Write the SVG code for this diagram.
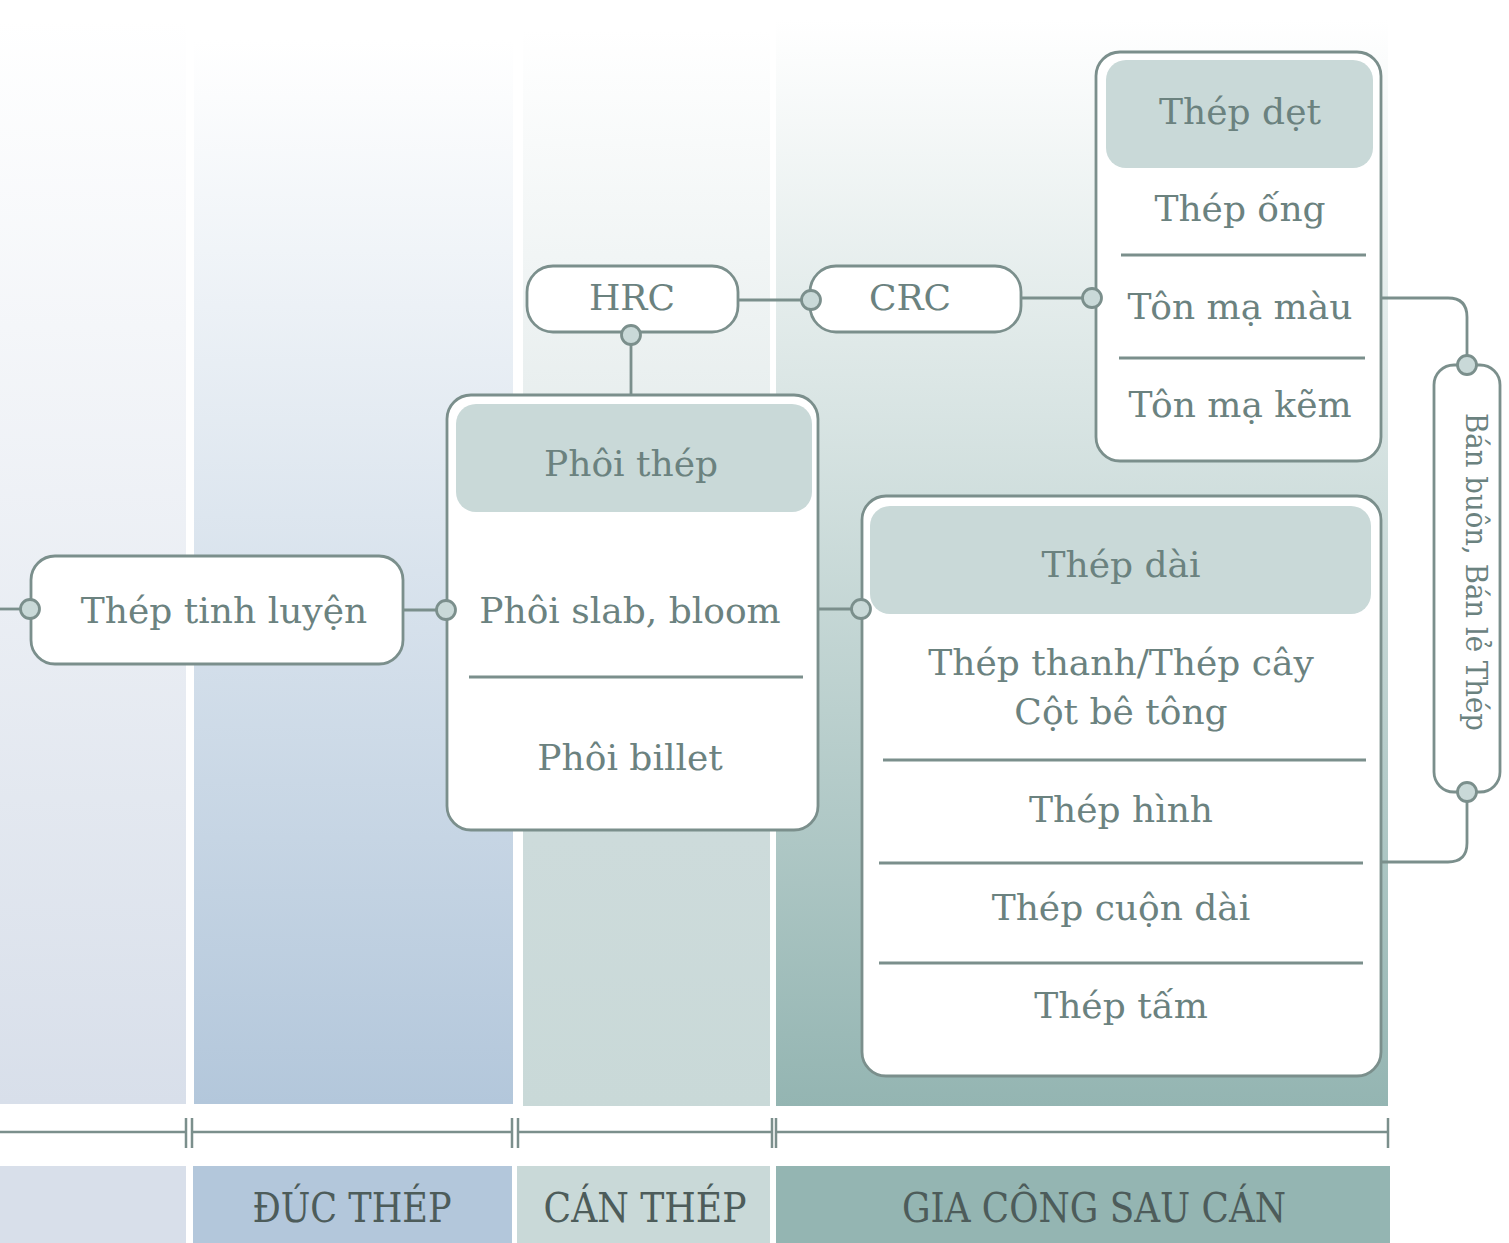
<svg xmlns="http://www.w3.org/2000/svg" width="1509" height="1243" viewBox="0 0 1509 1243">
<defs>
<linearGradient id="g1" gradientUnits="userSpaceOnUse" x1="0" y1="20" x2="0" y2="1104"><stop offset="0" stop-color="#ffffff"/><stop offset="1" stop-color="#d8dfea"/></linearGradient>
<linearGradient id="g2" gradientUnits="userSpaceOnUse" x1="0" y1="40" x2="0" y2="1104"><stop offset="0" stop-color="#ffffff"/><stop offset="1" stop-color="#b3c7db"/></linearGradient>
<linearGradient id="g3" gradientUnits="userSpaceOnUse" x1="0" y1="30" x2="0" y2="1106"><stop offset="0" stop-color="#ffffff"/><stop offset="0.75" stop-color="#cddbdb"/><stop offset="1" stop-color="#c9d9d8"/></linearGradient>
<linearGradient id="g4" gradientUnits="userSpaceOnUse" x1="0" y1="20" x2="0" y2="1106"><stop offset="0" stop-color="#ffffff"/><stop offset="1" stop-color="#94b5b2"/></linearGradient>
<style>
.box{fill:#ffffff;stroke:#7b8f8c;stroke-width:2.8}
.hdr{fill:#c9d9d8}
.ln{fill:none;stroke:#7b8f8c;stroke-width:2.8}
.dot{fill:#c9d9d8;stroke:#7b8f8c;stroke-width:2.8}
.t{font-family:"DejaVu Serif","Liberation Serif",serif;font-size:36px;fill:#6b827f;text-anchor:middle}
.lbl{font-family:"DejaVu Serif","Liberation Serif",serif;font-size:41px;fill:#4d5c5a;text-anchor:middle}
.ax{fill:none;stroke:#7b8f8c;stroke-width:2.5}
</style>
</defs>
<g id="background">
<rect x="0" y="20" width="186" height="1084" fill="url(#g1)"/>
<rect x="194" y="40" width="319" height="1064" fill="url(#g2)"/>
<rect x="523" y="30" width="247" height="1076" fill="url(#g3)"/>
<rect x="776" y="20" width="612" height="1086" fill="url(#g4)"/>
</g>
<g id="axis">
<path class="ax" d="M0 1132H186M192 1132H512M518 1132H772M776 1132H1388"/>
<path class="ax" d="M186 1118V1148M192 1118V1148M512 1118V1148M518 1118V1148M772 1118V1148M776 1118V1148M1388 1118V1148"/>
</g>
<g id="stage-labels">
<rect x="0" y="1166" width="186" height="77" fill="#d8dfea"/>
<rect x="193" y="1166" width="319" height="77" fill="#b3c7db"/>
<text class="lbl" x="352" y="1222" textLength="199" lengthAdjust="spacingAndGlyphs">ĐÚC THÉP</text>
<rect x="517" y="1166" width="253" height="77" fill="#c9d9d8"/>
<text class="lbl" x="645" y="1222" textLength="203" lengthAdjust="spacingAndGlyphs">CÁN THÉP</text>
<rect x="776" y="1166" width="614" height="77" fill="#94b5b2"/>
<text class="lbl" x="1094" y="1222" textLength="384" lengthAdjust="spacingAndGlyphs">GIA CÔNG SAU CÁN</text>
</g>
<g id="connectors">
<path class="ln" d="M0 609H30"/>
<path class="ln" d="M403 610H446"/>
<path class="ln" d="M631 335V395"/>
<path class="ln" d="M738 300H811"/>
<path class="ln" d="M1021 298H1092"/>
<path class="ln" d="M818 609H861"/>
<path class="ln" d="M1381 298H1448Q1467 298 1467 317V365"/>
<path class="ln" d="M1467 792V843Q1467 862 1448 862H1381"/>
</g>
<g id="node-thep-tinh-luyen">
<rect class="box" x="31" y="556" width="372" height="108" rx="24"/>
<text class="t" x="224" y="623">Thép tinh luyện</text>
</g>
<g id="node-phoi-thep">
<rect class="box" x="447" y="395" width="371" height="435" rx="24"/>
<rect class="hdr" x="456" y="404" width="356" height="108" rx="20"/>
<text class="t" x="631" y="476">Phôi thép</text>
<text class="t" x="630" y="623">Phôi slab, bloom</text>
<path class="ln" d="M469 677H803"/>
<text class="t" x="630" y="770">Phôi billet</text>
</g>
<g id="node-hrc">
<rect class="box" x="527" y="266" width="211" height="66" rx="26"/>
<text class="t" x="632" y="310">HRC</text>
</g>
<g id="node-crc">
<rect class="box" x="810" y="266" width="211" height="66" rx="26"/>
<text class="t" x="910" y="310">CRC</text>
</g>
<g id="node-thep-det">
<rect class="box" x="1096" y="52" width="285" height="409" rx="24"/>
<rect class="hdr" x="1106" y="60" width="267" height="108" rx="20"/>
<text class="t" x="1240" y="124">Thép dẹt</text>
<text class="t" x="1240" y="221">Thép ống</text>
<path class="ln" d="M1121 255H1366"/>
<text class="t" x="1240" y="319">Tôn mạ màu</text>
<path class="ln" d="M1119 358H1365"/>
<text class="t" x="1240" y="417">Tôn mạ kẽm</text>
</g>
<g id="node-thep-dai">
<rect class="box" x="862" y="496" width="519" height="580" rx="24"/>
<rect class="hdr" x="870" y="506" width="501" height="108" rx="20"/>
<text class="t" x="1121" y="577">Thép dài</text>
<text class="t" x="1121" y="675">Thép thanh/Thép cây</text>
<text class="t" x="1121" y="724">Cột bê tông</text>
<path class="ln" d="M883 760H1366"/>
<text class="t" x="1121" y="822">Thép hình</text>
<path class="ln" d="M879 863H1363"/>
<text class="t" x="1121" y="920">Thép cuộn dài</text>
<path class="ln" d="M879 963H1363"/>
<text class="t" x="1121" y="1018">Thép tấm</text>
</g>
<g id="node-ban-buon">
<rect class="box" x="1434" y="365" width="66" height="427" rx="20"/>
<text class="t" style="font-size:29px" transform="translate(1466,572) rotate(90)" textLength="318" lengthAdjust="spacingAndGlyphs">Bán buôn, Bán lẻ Thép</text>
</g>
<g id="ports">
<circle class="dot" cx="30" cy="609" r="9.5"/>
<circle class="dot" cx="446" cy="610" r="9.5"/>
<circle class="dot" cx="631" cy="335" r="9.5"/>
<circle class="dot" cx="811" cy="300" r="9.5"/>
<circle class="dot" cx="1092" cy="298" r="9.5"/>
<circle class="dot" cx="861" cy="609" r="9.5"/>
<circle class="dot" cx="1467" cy="365" r="9.5"/>
<circle class="dot" cx="1467" cy="792" r="9.5"/>
</g>
</svg>
